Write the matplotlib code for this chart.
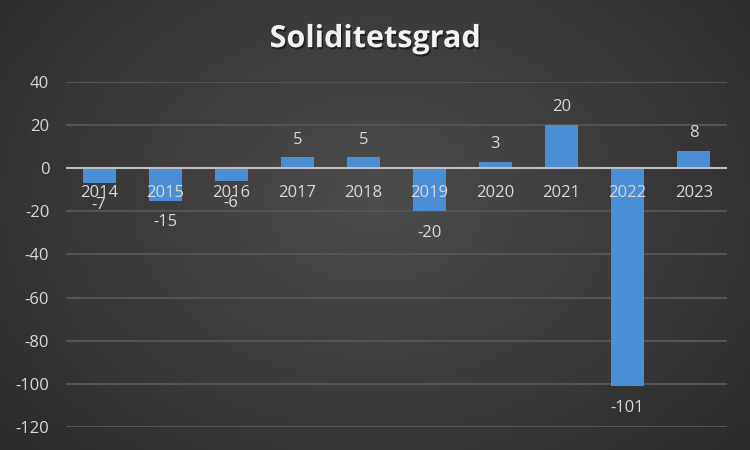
import matplotlib.pyplot as plt
import matplotlib.patheffects as pe
import numpy as np

# data
years = ['2014', '2015', '2016', '2017', '2018', '2019', '2020', '2021', '2022', '2023']
values = [-7, -15, -6, 5, 5, -20, 3, 20, -101, 8]
yticks = [40, 20, 0, -20, -40, -60, -80, -100, -120]

plt.rcParams['font.family'] = ['Open Sans', 'DejaVu Sans']

fig = plt.figure(figsize=(7.5, 4.5), dpi=100)

# radial gradient background
bg = fig.add_axes([0, 0, 1, 1], zorder=0)
yy, xx = np.mgrid[0:450, 0:750]
r = np.sqrt(((xx - 375) / 560) ** 2 + ((yy - 200) / 420) ** 2)
shade = np.clip(0.30 - 0.15 * r, 0.14, 0.30)
bg.imshow(np.dstack([shade, shade, shade]), aspect='auto', extent=[0, 1, 0, 1])
bg.axis('off')

ax = fig.add_axes([0.088, 0.051, 0.881, 0.767], zorder=1)
ax.patch.set_alpha(0)

x = np.arange(len(years))
bars = ax.bar(x, values, width=0.5, color='#4a8fd6', zorder=3)

ax.set_ylim(-120, 40)
ax.set_xlim(-0.5, len(years) - 0.5)
ax.set_yticks(yticks)
ax.set_yticklabels([str(v) for v in yticks], color='#d9d9d9', fontsize=12)
ax.tick_params(axis='y', length=0, pad=12)
ax.grid(axis='y', color='#555555', linewidth=1.5, zorder=0)
ax.set_axisbelow(True)

for s in ['top', 'right', 'left', 'bottom']:
    ax.spines[s].set_visible(False)
ax.axhline(0, color='#bfbfbf', linewidth=1.5, zorder=4)
ax.set_xticks([])

# year labels sit just under the zero line, on top of the bars
for xi, yr in zip(x, years):
    ax.annotate(yr, (xi, 0), xytext=(0, -12), textcoords='offset points',
                ha='center', va='top', color='#d9d9d9', fontsize=12, zorder=5)

for xi, v in zip(x, values):
    if v >= 0:
        ax.annotate(str(v), (xi, v), xytext=(0, 7), textcoords='offset points',
                    ha='center', va='bottom', color='#d9d9d9', fontsize=12, zorder=5)
    else:
        ax.annotate(str(v), (xi, v), xytext=(0, -10), textcoords='offset points',
                    ha='center', va='top', color='#d9d9d9', fontsize=12, zorder=5)

fig.text(0.5, 0.913, 'Soliditetsgrad', ha='center', va='center', color='#f2f2f2',
         fontsize=22, fontweight='bold',
         path_effects=[pe.withSimplePatchShadow(offset=(1, -1.5), shadow_rgbFace='black', alpha=0.5)])

fig.savefig('out.png', dpi=100)
